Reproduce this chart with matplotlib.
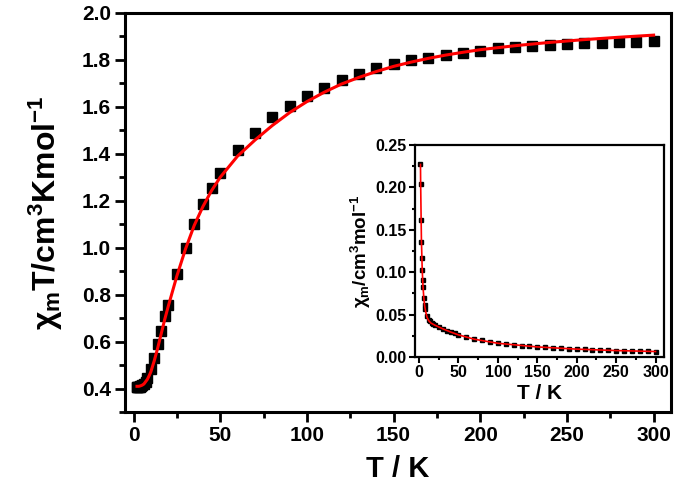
import numpy as np
import matplotlib
matplotlib.use("Agg")
import matplotlib.pyplot as plt
from matplotlib.ticker import MultipleLocator, FormatStrFormatter

plt.rcParams['font.family'] = ['Liberation Sans', 'DejaVu Sans']
plt.rcParams['font.weight'] = 'bold'
plt.rcParams['mathtext.fontset'] = 'custom'
plt.rcParams['mathtext.rm'] = 'Liberation Sans:bold'
plt.rcParams['mathtext.it'] = 'Liberation Sans:bold'
plt.rcParams['mathtext.bf'] = 'Liberation Sans:bold'

# chi_m T data (main plot)
T_data = [1.8, 2, 2.5, 3, 3.5, 4, 4.5, 5, 6, 7, 8, 10, 12, 14, 16, 18, 20, 25, 30, 35, 40, 45, 50,
          60, 70, 80, 90, 100, 110, 120, 130, 140, 150, 160, 170, 180, 190, 200, 210, 220, 230,
          240, 250, 260, 270, 280, 290, 300]
chiT_data = [0.405, 0.405, 0.405, 0.407, 0.408, 0.41, 0.413, 0.416, 0.42, 0.43, 0.447, 0.485,
             0.532, 0.592, 0.647, 0.71, 0.758, 0.89, 1.0, 1.1, 1.185, 1.253, 1.317,
             1.415, 1.49, 1.556, 1.605, 1.645, 1.68, 1.713, 1.738, 1.763, 1.78, 1.80, 1.807,
             1.82, 1.83, 1.837, 1.85, 1.854, 1.857, 1.863, 1.867, 1.87, 1.87, 1.876, 1.876, 1.88]

# fitted curve (main)
T_fit = [2, 3, 4, 5, 6, 7, 8, 9, 10, 12, 14, 16, 18, 20, 25, 30, 35, 40, 45, 50, 60, 70, 80, 90,
         100, 110, 120, 130, 140, 150, 160, 170, 180, 190, 200, 220, 240, 260, 280, 300]
chiT_fit = [0.41, 0.41, 0.412, 0.415, 0.42, 0.43, 0.44, 0.455, 0.472, 0.52, 0.575, 0.635, 0.695,
            0.75, 0.88, 0.995, 1.095, 1.175, 1.243, 1.30, 1.39, 1.458, 1.52, 1.575, 1.622, 1.662,
            1.697, 1.725, 1.75, 1.772, 1.79, 1.806, 1.82, 1.832, 1.843, 1.86, 1.874, 1.886,
            1.896, 1.905]

# chi_m data (inset)
chi_data = [0.227, 0.204, 0.161, 0.136, 0.117, 0.102, 0.091, 0.083, 0.070, 0.061, 0.056, 0.0485,
            0.044, 0.042, 0.040, 0.039, 0.038, 0.0356, 0.033, 0.031, 0.0296, 0.0278, 0.0263,
            0.0236, 0.0213, 0.0195, 0.0178, 0.0165, 0.0153, 0.0143, 0.0134, 0.0126, 0.0119,
            0.0113, 0.0106, 0.0101, 0.0096, 0.0092, 0.0088, 0.0084, 0.0081, 0.0078, 0.0075,
            0.0072, 0.0069, 0.0067, 0.0065, 0.0063]

T_fit_in = [1.8, 2, 3, 4, 5, 6, 7, 8, 10, 12, 15, 20, 30, 40, 50, 70, 100, 150, 200, 250, 300]
chi_fit_in = [0.227, 0.205, 0.137, 0.103, 0.083, 0.070, 0.061, 0.055, 0.047, 0.043, 0.040,
              0.0375, 0.0332, 0.0294, 0.026, 0.0209, 0.0161, 0.0118, 0.0092, 0.0075, 0.0064]

fig = plt.figure(figsize=(6.75, 4.93), dpi=100)
ax = fig.add_axes([0.185, 0.164, 0.809, 0.810])

ax.plot(T_data, chiT_data, 's', color='black', ms=6.5, zorder=2)
ax.plot(T_fit, chiT_fit, '-', color='red', lw=2.2, zorder=3)
ax.set_xlim(-5, 310)
ax.set_ylim(0.3, 2.0)
ax.xaxis.set_major_locator(MultipleLocator(50))
ax.xaxis.set_minor_locator(MultipleLocator(25))
ax.yaxis.set_minor_locator(MultipleLocator(0.1))
ax.set_yticks([0.4, 0.6, 0.8, 1.0, 1.2, 1.4, 1.6, 1.8, 2.0])
ax.yaxis.set_major_formatter(FormatStrFormatter('%.1f'))
ax.tick_params(which='major', direction='out', length=7, width=2, labelsize=15, pad=3)
ax.tick_params(which='minor', direction='out', length=4, width=2)
for s in ax.spines.values():
    s.set_linewidth(2.2)
for lab in ax.get_xticklabels() + ax.get_yticklabels():
    lab.set_fontweight('bold')
ax.set_xlabel('T / K', fontsize=21, fontweight='bold', labelpad=7)
ax.set_ylabel(r'$\chi_m$T/cm$^3$Kmol$^{-1}$', fontsize=23, fontweight='bold', labelpad=12)

# inset
ins = fig.add_axes([0.615, 0.276, 0.369, 0.430])
ins.plot(T_data, chi_data, 's', color='black', ms=3, zorder=2)
ins.plot(T_fit_in, chi_fit_in, '-', color='red', lw=1.2, zorder=3)
ins.set_xlim(-5, 311)
ins.set_ylim(0, 0.25)
ins.xaxis.set_major_locator(MultipleLocator(50))
ins.xaxis.set_minor_locator(MultipleLocator(25))
ins.yaxis.set_major_locator(MultipleLocator(0.05))
ins.yaxis.set_minor_locator(MultipleLocator(0.025))
ins.yaxis.set_major_formatter(FormatStrFormatter('%.2f'))
ins.tick_params(which='major', direction='out', length=4, width=1.5, labelsize=11.5, pad=2)
ins.tick_params(which='minor', direction='out', length=2.5, width=1.5)
for s in ins.spines.values():
    s.set_linewidth(1.6)
for lab in ins.get_xticklabels() + ins.get_yticklabels():
    lab.set_fontweight('bold')
ins.set_xlabel('T / K', fontsize=15, fontweight='bold', labelpad=3)
ins.set_ylabel(r'$\chi_m$/cm$^3$mol$^{-1}$', fontsize=13.5, fontweight='bold', labelpad=2)

fig.savefig('out.png', dpi=100)
